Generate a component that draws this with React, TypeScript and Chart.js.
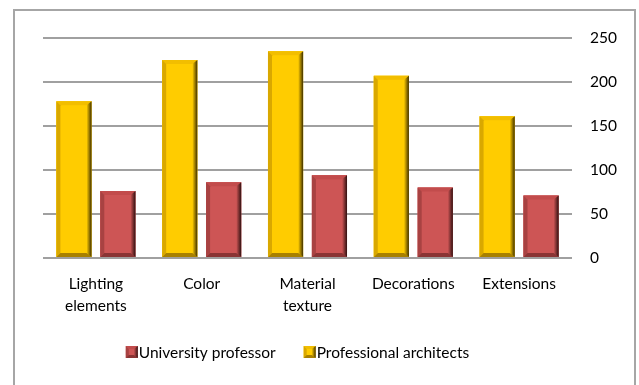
import React, { useEffect, useRef } from "react";
import { Chart, registerables } from "chart.js";

Chart.register(...registerables);

const categories: (string | string[])[] = [
  ["Lighting", "elements"],
  "Color",
  ["Material", "texture"],
  "Decorations",
  "Extensions",
];
const professionalArchitects = [178, 225, 235, 207, 161];
const universityProfessor = [76, 86, 94, 80, 71];
const yTicks = [0, 50, 100, 150, 200, 250];

const FONT = "Lato";
const FONT_SIZE = 15.5;

type Bevel = { face: string; top: string; left: string; right: string; bottom: string };
const bevels: Bevel[] = [
  { face: "#FFCC00", top: "#F2BE00", left: "#D9A800", right: "#3F3000", bottom: "#A88000" },
  { face: "#CD5555", top: "#C24C4C", left: "#A84242", right: "#301010", bottom: "#8A3434" },
];

function drawBevelRect(ctx: CanvasRenderingContext2D, L: number, T: number, R: number, B: number, b: Bevel, d: number) {
  ctx.save();
  ctx.fillStyle = b.face;
  ctx.fillRect(L, T, R - L, B - T);
  ctx.fillStyle = b.top;
  ctx.beginPath();
  ctx.moveTo(L, T);
  ctx.lineTo(R, T);
  ctx.lineTo(R - d, T + d);
  ctx.lineTo(L + d, T + d);
  ctx.closePath();
  ctx.fill();
  ctx.fillStyle = b.left;
  ctx.beginPath();
  ctx.moveTo(L, T);
  ctx.lineTo(L + d, T + d);
  ctx.lineTo(L + d, B - d);
  ctx.lineTo(L, B);
  ctx.closePath();
  ctx.fill();
  ctx.fillStyle = b.bottom;
  ctx.beginPath();
  ctx.moveTo(L, B);
  ctx.lineTo(L + d, B - d);
  ctx.lineTo(R - d, B - d);
  ctx.lineTo(R, B);
  ctx.closePath();
  ctx.fill();
  const g = ctx.createLinearGradient(R - d - 1, 0, R, 0);
  g.addColorStop(0, b.face);
  g.addColorStop(1, b.right);
  ctx.fillStyle = g;
  ctx.beginPath();
  ctx.moveTo(R, T);
  ctx.lineTo(R, B);
  ctx.lineTo(R - d - 1, B - d);
  ctx.lineTo(R - d - 1, T + d);
  ctx.closePath();
  ctx.fill();
  ctx.restore();
}

const bevelPlugin = {
  id: "bevel",
  afterDatasetsDraw(chart: any) {
    const ctx = chart.ctx as CanvasRenderingContext2D;
    chart.data.datasets.forEach((_ds: any, di: number) => {
      const meta = chart.getDatasetMeta(di);
      const b = bevels[di];
      meta.data.forEach((el: any) => {
        const { x, y, base, width } = el.getProps(["x", "y", "base", "width"], true);
        drawBevelRect(ctx, x - width / 2, Math.min(y, base), x + width / 2, Math.max(y, base), b, 4);
      });
    });
  },
};

const borderPlugin = {
  id: "outerBorder",
  beforeDraw(chart: any) {
    const ctx = chart.ctx as CanvasRenderingContext2D;
    ctx.save();
    ctx.fillStyle = "#ffffff";
    ctx.fillRect(0, 0, chart.width, chart.height);
    ctx.strokeStyle = "#A6A6A6";
    ctx.lineWidth = 2;
    ctx.strokeRect(14, 10, 621, 400);
    ctx.restore();
  },
};

// Legend drawn below the chart; items in reverse dataset order, box touching text
const legendPlugin = {
  id: "customLegend",
  afterDraw(chart: any) {
    const ctx = chart.ctx as CanvasRenderingContext2D;
    const ds = chart.data.datasets.map((d: any, i: number) => ({ label: d.label as string, i })).reverse();
    ctx.save();
    ctx.font = `${FONT_SIZE}px ${FONT}`;
    ctx.textBaseline = "middle";
    ctx.fillStyle = "#000";
    const box = 12;
    const gapText = 1;
    const gapItem = 28;
    const widths = ds.map((d: any) => box + gapText + ctx.measureText(d.label).width);
    const total = widths.reduce((a: number, w: number) => a + w, 0) + gapItem * (ds.length - 1);
    const cx = (chart.chartArea.left + chart.chartArea.right) / 2 - 10;
    let x = cx - total / 2;
    const y = 352;
    ds.forEach((d: any, k: number) => {
      drawBevelRect(ctx, x, y - box / 2, x + box, y + box / 2, bevels[d.i], 3);
      ctx.fillStyle = "#000";
      ctx.textAlign = "left";
      ctx.fillText(d.label, x + box + gapText, y + 0.5);
      x += widths[k] + gapItem;
    });
    ctx.restore();
  },
};

export default function App() {
  const ref = useRef<HTMLCanvasElement | null>(null);
  useEffect(() => {
    document.body.style.margin = "0";
    if (!ref.current) return;
    const chart = new Chart(ref.current, {
      type: "bar",
      data: {
        labels: categories,
        datasets: [
          {
            label: "Professional architects",
            data: professionalArchitects,
            backgroundColor: bevels[0].face,
            borderWidth: 0,
            categoryPercentage: 0.83,
            barPercentage: 0.8,
          },
          {
            label: "University professor",
            data: universityProfessor,
            backgroundColor: bevels[1].face,
            borderWidth: 0,
            categoryPercentage: 0.83,
            barPercentage: 0.8,
          },
        ],
      },
      options: {
        responsive: false,
        animation: false,
        layout: { padding: { left: 43, top: 38, right: 0, bottom: 53 } },
        plugins: {
          tooltip: { enabled: false },
          legend: { display: false },
        },
        scales: {
          x: {
            grid: { display: false, drawTicks: false },
            border: { display: false },
            ticks: {
              color: "#000",
              font: { family: FONT, size: FONT_SIZE, lineHeight: 1.42 },
              padding: 15,
              maxRotation: 0,
              autoSkip: false,
            },
            afterFit(scale: any) {
              scale.height = 74;
            },
          },
          y: {
            position: "right",
            min: 0,
            max: 250,
            afterBuildTicks(scale: any) {
              scale.ticks = yTicks.map((v) => ({ value: v }));
            },
            grid: { color: "#A0A0A0", lineWidth: 2, drawTicks: false },
            border: { display: false },
            ticks: {
              color: "#000",
              font: { family: FONT, size: FONT_SIZE },
              padding: 18,
            },
            afterFit(scale: any) {
              scale.width = 67;
            },
          },
        },
      },
      plugins: [borderPlugin, bevelPlugin, legendPlugin],
    });
    return () => chart.destroy();
  }, []);
  return (
    <div style={{ width: 639, height: 385 }}>
      <canvas ref={ref} width={639} height={385} style={{ display: "block" }} />
    </div>
  );
}
